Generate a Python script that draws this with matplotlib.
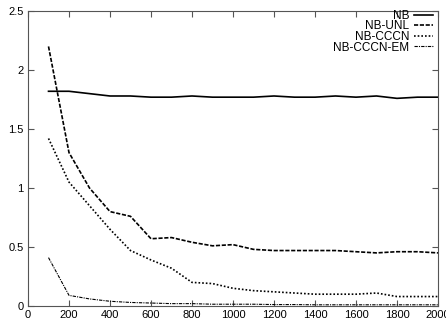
import numpy as np
import matplotlib.pyplot as plt

plt.rcParams['font.family'] = ['Liberation Sans', 'DejaVu Sans']

x = [100, 200, 300, 400, 500, 600, 700, 800, 900, 1000,
     1100, 1200, 1300, 1400, 1500, 1600, 1700, 1800, 1900, 2000]
nb = [1.82, 1.82, 1.80, 1.78, 1.78, 1.77, 1.77, 1.78, 1.77, 1.77,
      1.77, 1.78, 1.77, 1.77, 1.78, 1.77, 1.78, 1.76, 1.77, 1.77]
nb_unl = [2.20, 1.30, 1.00, 0.80, 0.76, 0.57, 0.58, 0.54, 0.51, 0.52,
          0.48, 0.47, 0.47, 0.47, 0.47, 0.46, 0.45, 0.46, 0.46, 0.45]
nb_cccn = [1.42, 1.05, 0.85, 0.65, 0.47, 0.39, 0.32, 0.20, 0.19, 0.15,
           0.13, 0.12, 0.11, 0.10, 0.10, 0.10, 0.11, 0.08, 0.08, 0.08]
nb_cccn_em = [0.41, 0.09, 0.06, 0.04, 0.03, 0.025, 0.02, 0.02, 0.015, 0.015,
              0.015, 0.012, 0.012, 0.01, 0.01, 0.01, 0.01, 0.01, 0.01, 0.01]

fig = plt.figure(figsize=(4.46, 3.25), dpi=100)
ax = fig.add_axes([0.0628, 0.0585, 0.9192, 0.9075])

ax.plot(x, nb, color="black", lw=1.2, ls="-", label="NB")
ax.plot(x, nb_unl, color="black", lw=1.2, ls=(0, (2.5, 1)), label="NB-UNL")
ax.plot(x, nb_cccn, color="black", lw=1.2, ls=(0, (1, 1.2)), label="NB-CCCN")
ax.plot(x, nb_cccn_em, color="black", lw=0.8, ls=(0, (3, 1, 1, 1)), label="NB-CCCN-EM")

ax.set_xlim(0, 2000)
ax.set_ylim(0, 2.5)
ax.set_xticks(range(0, 2001, 200))
ax.set_yticks([0, 0.5, 1, 1.5, 2, 2.5])
ax.set_yticklabels(["0", "0.5", "1", "1.5", "2", "2.5"])
ax.tick_params(direction="in", top=True, right=True, labelsize=8, length=4,
               color="#555555", pad=3)
for s in ax.spines.values():
    s.set_color("#555555")
    s.set_linewidth(0.8)

ax.legend(loc="upper right", bbox_to_anchor=(0.99, 1.008), frameon=False,
          markerfirst=False, fontsize=8.5, handlelength=1.6,
          labelspacing=-0.12, borderaxespad=0.0, handletextpad=0.4,
          borderpad=0.1)

fig.savefig("out.png", dpi=100)
